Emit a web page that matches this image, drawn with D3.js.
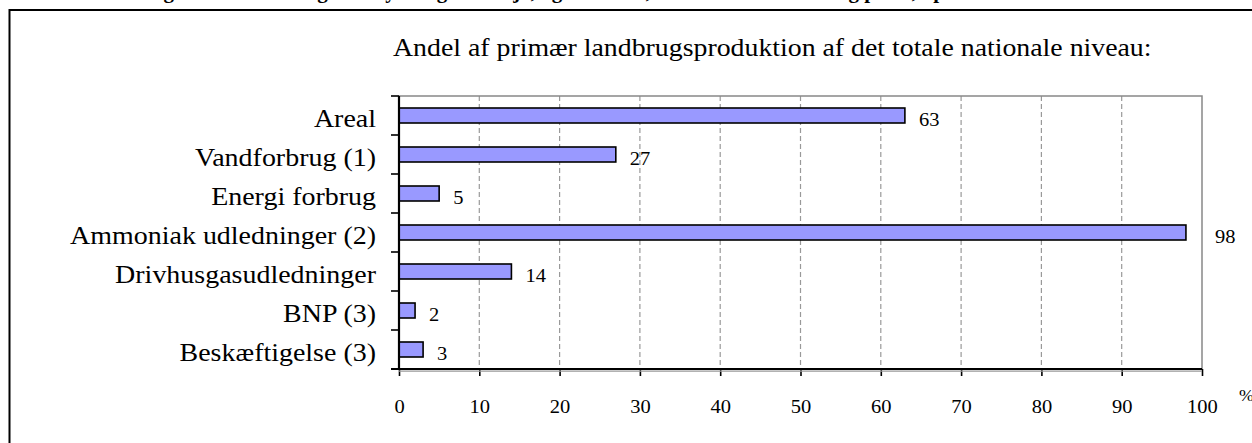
<!DOCTYPE html>
<html>
<head>
<meta charset="utf-8">
<script src="https://cdn.jsdelivr.net/npm/d3@7"></script>
<style>
  html, body { margin: 0; padding: 0; background: #fff; overflow: hidden; }
  svg { display: block; }
  svg text { font-family: "Times New Roman", "Liberation Serif", Times, serif; fill: #000; }
</style>
</head>
<body>
<svg id="chart" width="1252" height="443"></svg>
<script>
const categories = ["Areal", "Vandforbrug (1)", "Energi forbrug", "Ammoniak udledninger (2)", "Drivhusgasudledninger", "BNP (3)", "Beskæftigelse (3)"];
const values = [63, 27, 5, 98, 14, 2, 3];
const xTicks = [0, 10, 20, 30, 40, 50, 60, 70, 80, 90, 100];
const subtitle = "Andel af primær landbrugsproduktion af det totale nationale niveau:";
const cutTitle = "Figur 2.1. Landbrugets betydning for miljø, og økonomi, samt ressourceforbrug pr. år, i procent af hele landet";
const unitLabel = "%";

const svg = d3.select("#chart");
const W = 1252, H = 443;
const plot = { left: 399, right: 1202, top: 96, bottom: 369 };
const FONT = '"Times New Roman", "Liberation Serif", Times, serif';

function stretch(sel, target) {
  const w = sel.node().getComputedTextLength();
  return target / w;
}

// outer frame
svg.append("rect").attr("x", 9.5).attr("y", 10).attr("width", W + 20).attr("height", H + 20)
  .attr("fill", "none").attr("stroke", "#000").attr("stroke-width", 2);

// cut-off bold title at the very top (only its lowest part is visible)
svg.append("text").attr("x", 636).attr("y", -2).attr("text-anchor", "middle")
  .attr("font-family", FONT).attr("font-size", 21).attr("font-weight", "bold").text(cutTitle);

const x = d3.scaleLinear().domain([0, 100]).range([plot.left, plot.right]);
const y = d3.scaleBand().domain(categories).range([plot.top, plot.bottom]).paddingInner(0).paddingOuter(0);
const barH = 15;

// grid lines
svg.append("g").selectAll("line").data(xTicks.filter(t => t > 0 && t < 100)).join("line")
  .attr("x1", d => x(d)).attr("x2", d => x(d))
  .attr("y1", plot.top).attr("y2", plot.bottom)
  .attr("stroke", "#999").attr("stroke-width", 1.2).attr("stroke-dasharray", "5,3");

// plot border (top/right gray)
svg.append("path")
  .attr("d", `M${plot.left},${plot.top}H${plot.right}V${plot.bottom}`)
  .attr("fill", "none").attr("stroke", "#888").attr("stroke-width", 1.5);

// bars
svg.append("g").selectAll("rect").data(values).join("rect")
  .attr("x", x(0))
  .attr("y", (d, i) => y(categories[i]) + y.bandwidth() / 2 - barH / 2)
  .attr("width", d => x(d) - x(0))
  .attr("height", barH)
  .attr("fill", "#9999ff").attr("stroke", "#000").attr("stroke-width", 1.6);

// value labels
svg.append("g").selectAll("text").data(values).join("text")
  .attr("font-family", FONT).attr("font-size", 19)
  .attr("transform", (d, i) => {
    let lx = x(d) + 14;
    if (lx + 10 > plot.right) lx = plot.right + 13;
    return `translate(${lx},${y(categories[i]) + y.bandwidth() / 2 + 10}) scale(1.08,1)`;
  })
  .text(d => d);

// x axis
const xAxis = d3.axisBottom(x).tickValues(xTicks).tickSize(7).tickFormat(d3.format("d"));
const gx = svg.append("g").attr("transform", `translate(0,${plot.bottom})`).call(xAxis);
gx.attr("font-family", FONT);
gx.select(".domain").attr("stroke", "#000").attr("stroke-width", 2.2)
  .attr("d", `M${plot.left - 8},0H${plot.right}`);
gx.selectAll(".tick line").attr("stroke", "#000").attr("stroke-width", 1.6);
gx.selectAll(".tick text").attr("font-size", 19).attr("dy", 0).attr("y", null)
  .attr("font-family", FONT).attr("fill", "#000")
  .attr("transform", "translate(0,43.5) scale(1.08,1)");
// gray shadow below axis
svg.append("line").attr("x1", plot.left).attr("x2", plot.right)
  .attr("y1", plot.bottom + 2.2).attr("y2", plot.bottom + 2.2)
  .attr("stroke", "#999").attr("stroke-width", 1.2);

// y axis
const yAxis = d3.axisLeft(y).tickSize(0).tickFormat("");
const gy = svg.append("g").attr("transform", `translate(${plot.left},0)`).call(yAxis);
gy.select(".domain").attr("stroke", "#000").attr("stroke-width", 2.2)
  .attr("d", `M0,${plot.top}V${plot.bottom}`);
gy.selectAll(".tick").remove();
const bounds = categories.map(c => y(c)).concat([plot.bottom]);
gy.selectAll("line.yt").data(bounds).join("line").attr("class", "yt")
  .attr("x1", -8).attr("x2", 0).attr("y1", d => d).attr("y2", d => d)
  .attr("stroke", "#000").attr("stroke-width", 1.6);

// category labels
const catText = svg.append("g").selectAll("text").data(categories).join("text")
  .attr("font-family", FONT).attr("font-size", 25).attr("text-anchor", "end").text(d => d);
const refIdx = categories.indexOf("Ammoniak udledninger (2)");
const catScale = stretch(d3.select(catText.nodes()[refIdx]), 306);
catText.attr("transform", d => `translate(376,${y(d) + y.bandwidth() / 2 + 11}) scale(${catScale},1)`);

// subtitle
const sub = svg.append("text").attr("font-family", FONT).attr("font-size", 25).text(subtitle);
const subScale = stretch(sub, 759);
sub.attr("transform", `translate(393,56) scale(${subScale},1)`);

// unit (cut at right edge as in the source)
svg.append("text").attr("font-family", FONT).attr("font-size", 17)
  .attr("transform", "translate(1239,401) scale(1.05,1)").text(unitLabel);
</script>
</body>
</html>
